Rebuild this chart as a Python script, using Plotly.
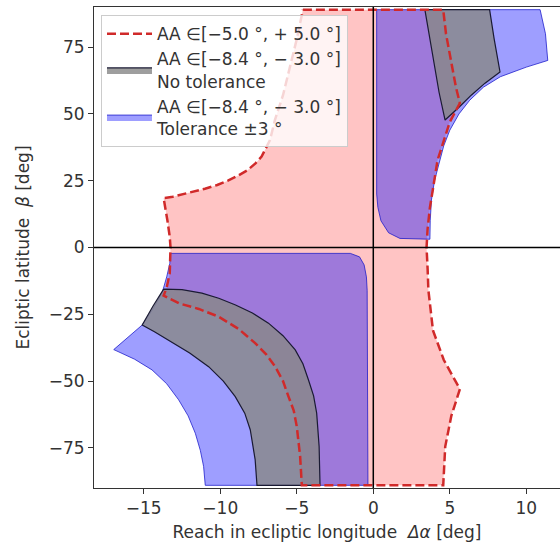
import plotly.graph_objects as go

# --- data (ecliptic longitude reach [deg], ecliptic latitude [deg]) ---
# pink region bounded by red dashed line: AA in [-5, +5]
pink_lon = [-4.6, 4.57, 4.75, 5.05, 5.4, 5.66, 5.0, 4.5, 4.2, 3.9, 3.7, 3.55, 3.48, 3.55, 3.6, 3.9, 4.6, 5.66,
            5.1, 4.7, 4.57, -4.67, -4.78, -5.0, -5.2, -5.54, -5.9, -6.41, -7.0, -7.72, -8.8, -10.1, -11.4,
            -12.7, -13.7, -13.5, -13.3, -13.25, -13.3, -13.45, -13.7, -13.1, -12.5, -11.7, -11.0, -10.2,
            -9.5, -8.8, -8.2, -7.7, -7.3, -6.75, -6.43, -5.9, -5.44, -5.0, -4.6]
pink_lat = [89, 89, 80, 70, 60, 54, 47, 38, 32.7, 22, 15, 7, 0, -8, -16, -31, -42, -53,
            -63, -74.5, -89, -89, -78.2, -67, -61, -55.8, -50, -44.6, -40, -35.8, -30.5, -25.9, -23,
            -20.9, -18, -15, -9.6, 0, 4, 10, 18.5, 19.0, 19.8, 20.8, 22, 23.4,
            25, 27, 29, 31.5, 34, 40.2, 47.7, 57, 67.6, 78, 89]

# blue regions: AA in [-8.4, -3.0], tolerance +-3 deg
blue_up_lon = [0.22, 10.9, 11.25, 11.4, 10.0, 8.3, 7.2, 6.3, 5.6, 5.0, 4.6, 4.35, 4.0, 3.8, 3.72, 3.7,
               1.74, 1.0, 0.5, 0.3, 0.22, 0.22]
blue_up_lat = [89, 89, 80, 70, 67.5, 63.9, 60, 55.1, 50, 43.9, 38, 32.7, 25, 17.8, 10, 3.1,
               3.4, 5.5, 10, 15, 20, 89]
blue_lo_lon = [-13.25, -1.5, -0.9, -0.6, -0.45, -0.4, -0.35, -10.98, -11.09, -11.3, -11.63, -12.1, -12.72,
               -13.5, -14.46, -15.6, -16.96, -16.0, -15.1, -14.4, -13.8, -13.5, -13.3, -13.25]
blue_lo_lat = [-2.2, -2.2, -3.5, -6.5, -11, -16, -89, -89, -81.9, -76, -69.5, -63, -57,
               -51, -45.8, -41.8, -38.2, -33.5, -29, -23, -17, -11, -6, -2.2]

# gray regions: AA in [-8.4, -3.0], no tolerance
gray_up_lon = [3.37, 7.6, 7.9, 8.28, 7.3, 6.4, 5.6, 5.0, 4.69, 4.3, 4.0, 3.7, 3.37]
gray_up_lat = [89, 89, 78, 65.7, 61.5, 57, 52.5, 49.5, 47.7, 58, 67.6, 78, 89]
gray_lo_lon = [-13.7, -12.5, -11.2, -10.1, -9.0, -7.9, -6.85, -5.9, -5.1, -4.6, -4.24, -3.9, -3.7, -3.6,
               -3.54, -3.48, -7.6, -7.72, -8.04, -8.4, -9.02, -9.8, -10.76, -12.0, -13.37, -14.3, -15.1,
               -14.4, -13.7]
gray_lo_lat = [-15.6, -15.8, -17.1, -19, -21.5, -24.5, -28.3, -33, -38.3, -43.5, -49.5, -55.5, -62, -68,
               -74.5, -89, -89, -79.4, -68.2, -62, -55.8, -50, -44.6, -39.5, -34.6, -31.5, -29,
               -22, -15.6]

x_ticks = [-15, -10, -5, 0, 5, 10]
y_ticks = [-75, -50, -25, 0, 25, 50, 75]

FONT = "DejaVu Sans"
TXT = "#333333"
FS = 17

fig = go.Figure()

fig.add_trace(go.Scatter(x=pink_lon, y=pink_lat, mode="lines", fill="toself",
                         fillcolor="rgba(255,0,0,0.23)", line=dict(width=0),
                         showlegend=False, hoverinfo="skip"))

fig.add_trace(go.Scatter(x=blue_up_lon + [None] + blue_lo_lon, y=blue_up_lat + [None] + blue_lo_lat,
                         mode="lines", fill="toself", fillcolor="rgba(0,0,255,0.38)",
                         line=dict(color="rgba(20,20,200,0.75)", width=1),
                         name="AA ∈[−8.4 °, − 3.0 °]<br>Tolerance ±3 °", legendrank=3))

fig.add_trace(go.Scatter(x=gray_up_lon + [None] + gray_lo_lon, y=gray_up_lat + [None] + gray_lo_lat,
                         mode="lines", fill="toself", fillcolor="rgba(136,136,136,0.81)",
                         line=dict(color="#1a1a33", width=1.2),
                         name="AA ∈[−8.4 °, − 3.0 °]<br>No tolerance", legendrank=2))

fig.add_trace(go.Scatter(x=pink_lon, y=pink_lat, mode="lines",
                         line=dict(color="#d02a2a", width=2.5, dash="9px,4px"),
                         name="AA ∈[−5.0 °, + 5.0 °]", legendrank=1))

fig.add_hline(y=0, line_color="black", line_width=1.5)
fig.add_vline(x=0, line_color="black", line_width=1.5)

axis_common = dict(showgrid=False, zeroline=False, showline=True, linecolor="#333333", linewidth=1,
                   ticks="outside", ticklen=5, tickwidth=1, tickcolor="#333333",
                   tickfont=dict(family=FONT, size=FS, color=TXT))

fig.update_layout(
    width=560, height=549,
    margin=dict(l=94, r=0, t=7, b=61),
    paper_bgcolor="white", plot_bgcolor="white",
    font=dict(family=FONT, size=FS, color=TXT),
    xaxis=dict(range=[-18.25, 12.2], tickvals=x_ticks, mirror=True,
               title=dict(text="Reach in ecliptic longitude  <i>Δα</i> [deg]", standoff=8,
                          font=dict(family=FONT, size=FS, color=TXT)),
               **axis_common),
    yaxis=dict(range=[-90, 90], tickvals=y_ticks, mirror=False,
               title=dict(text="Ecliptic latitude  <i>β</i> [deg]", standoff=14,
                          font=dict(family=FONT, size=FS, color=TXT)),
               **axis_common),
    legend=dict(x=0.015, y=0.983, xanchor="left", yanchor="top",
                bgcolor="rgba(255,255,255,0.8)", bordercolor="#cccccc", borderwidth=1,
                font=dict(family=FONT, size=FS, color=TXT), itemwidth=45, tracegroupgap=2),
)

fig.write_html("out.html")
